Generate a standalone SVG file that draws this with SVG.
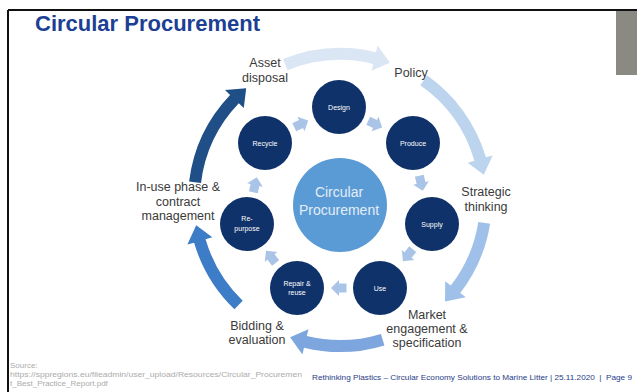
<svg xmlns="http://www.w3.org/2000/svg" xmlns:xlink="http://www.w3.org/1999/xlink" width="637" height="392" viewBox="0 0 637 392">
<style>
.lbl{font-family:"Liberation Sans",Arial,sans-serif;font-size:12.5px;fill:#3a3a3a;text-anchor:middle}
.nd{fill:#10326a}
.ndt{font-family:"Liberation Sans",Arial,sans-serif;font-size:7px;fill:#ffffff;text-anchor:middle}
.ctr{font-family:"Liberation Sans",Arial,sans-serif;font-size:14px;fill:#e3edf8;text-anchor:middle}
.sa{fill:#a9c4e6}
.src{font-family:"Liberation Sans",Arial,sans-serif;font-size:8px;fill:#ababab}
.ftr{font-family:"Liberation Sans",Arial,sans-serif;font-size:7.8px;fill:#1f3c88}
</style>
<defs>
<path id="sarrow" d="M -7.5 -4.5 L 0 -4.5 L 0 -8 L 8 0 L 0 8 L 0 4.5 L -7.5 4.5 Z"/>
</defs>
<rect width="637" height="392" fill="#ffffff"/>
<line x1="8" y1="10" x2="637" y2="10" stroke="#111" stroke-width="2"/>
<line x1="8" y1="10" x2="8" y2="392" stroke="#111" stroke-width="2"/>
<rect x="616" y="11" width="21" height="64" fill="#8a8a82"/>
<text x="35" y="31" font-family="Liberation Sans,Arial,sans-serif" font-size="22" font-weight="bold" fill="#1c3f94">Circular Procurement</text>

<g id="connectors">
<path d="M 283.1 59.1 A 152 152 0 0 1 376.0 52.3 L 377.6 45.5 L 389.9 62.8 L 371.5 70.8 L 373.2 64.0 A 140 140 0 0 0 287.6 70.2 Z" fill="#dae6f3"/>
<path d="M 427.2 75.5 A 152 152 0 0 1 485.9 157.3 L 492.6 155.4 L 483.8 174.7 L 467.7 162.7 L 474.4 160.7 A 140 140 0 0 0 420.3 85.3 Z" fill="#bcd4ee"/>
<path d="M 490.1 223.8 A 152 152 0 0 1 460.3 292.9 L 465.8 297.2 L 445.0 301.4 L 445.2 281.3 L 450.8 285.6 A 140 140 0 0 0 478.3 221.9 Z" fill="#9fc1e9"/>
<path d="M 384.4 345.4 A 152 152 0 0 1 304.0 347.7 L 302.4 354.5 L 290.1 337.2 L 308.5 329.2 L 306.8 336.0 A 140 140 0 0 0 380.9 333.9 Z" fill="#7ea6de"/>
<path d="M 234.4 309.3 A 152 152 0 0 1 194.1 242.7 L 187.4 244.6 L 196.2 225.3 L 212.3 237.3 L 205.6 239.3 A 140 140 0 0 0 242.7 300.7 Z" fill="#3d7cc6"/>
<path d="M 189.1 181.5 A 152 152 0 0 1 230.1 95.0 L 225.0 90.1 L 246.2 88.2 L 243.8 108.1 L 238.8 103.3 A 140 140 0 0 0 201.0 182.9 Z" fill="#1f4f86"/>
<use xlink:href="#sarrow" class="sa" transform="translate(301 124) rotate(-26)"/>
<use xlink:href="#sarrow" class="sa" transform="translate(375 124) rotate(26)"/>
<use xlink:href="#sarrow" class="sa" transform="translate(421 183) rotate(77)"/>
<use xlink:href="#sarrow" class="sa" transform="translate(408 255) rotate(129)"/>
<use xlink:href="#sarrow" class="sa" transform="translate(339 288) rotate(180)"/>
<use xlink:href="#sarrow" class="sa" transform="translate(271 257) rotate(232)"/>
<use xlink:href="#sarrow" class="sa" transform="translate(255 185) rotate(-77.5)"/>
</g>

<g id="center">
<circle cx="340" cy="205" r="47" fill="#5b9bd5"/>
<text class="ctr" x="339" y="197">Circular</text>
<text class="ctr" x="339" y="215">Procurement</text>
</g>
<g id="design"><circle class="nd" cx="339" cy="107" r="27"/><text class="ndt" x="339" y="109.5">Design</text></g>
<g id="produce"><circle class="nd" cx="413" cy="143" r="27"/><text class="ndt" x="413" y="145.5">Produce</text></g>
<g id="supply"><circle class="nd" cx="432" cy="224" r="27"/><text class="ndt" x="432" y="226.5">Supply</text></g>
<g id="use"><circle class="nd" cx="380" cy="288" r="27"/><text class="ndt" x="380" y="290.5">Use</text></g>
<g id="repair"><circle class="nd" cx="297" cy="288" r="27"/><text class="ndt" x="297" y="286">Repair &amp;</text><text class="ndt" x="297" y="295">reuse</text></g>
<g id="repurpose"><circle class="nd" cx="247" cy="224" r="27"/><text class="ndt" x="247" y="221">Re-</text><text class="ndt" x="247" y="231">purpose</text></g>
<g id="recycle"><circle class="nd" cx="265" cy="143" r="27"/><text class="ndt" x="265" y="145.5">Recycle</text></g>

<g id="asset-disposal"><text class="lbl" x="265" y="67">Asset</text><text class="lbl" x="265" y="82">disposal</text></g>
<g id="policy"><text class="lbl" x="411" y="77">Policy</text></g>
<g id="strategic"><text class="lbl" x="486" y="196">Strategic</text><text class="lbl" x="486" y="211">thinking</text></g>
<g id="market"><text class="lbl" x="427" y="319">Market</text><text class="lbl" x="427" y="333">engagement &amp;</text><text class="lbl" x="427" y="347">specification</text></g>
<g id="bidding"><text class="lbl" x="257" y="330">Bidding &amp;</text><text class="lbl" x="257" y="344">evaluation</text></g>
<g id="inuse"><text class="lbl" x="178" y="191">In-use phase &amp;</text><text class="lbl" x="178" y="206">contract</text><text class="lbl" x="178" y="220">management</text></g>

<text class="src" x="10" y="368">Source:</text>
<text class="src" x="10" y="377" textLength="292" lengthAdjust="spacingAndGlyphs">https://sppregions.eu/fileadmin/user_upload/Resources/Circular_Procuremen</text>
<text class="src" x="10" y="386">t_Best_Practice_Report.pdf</text>
<text class="ftr" x="312" y="380" xml:space="preserve" textLength="320" lengthAdjust="spacingAndGlyphs">Rethinking Plastics – Circular Economy Solutions to Marine Litter | 25.11.2020  |  Page 9</text>
</svg>
